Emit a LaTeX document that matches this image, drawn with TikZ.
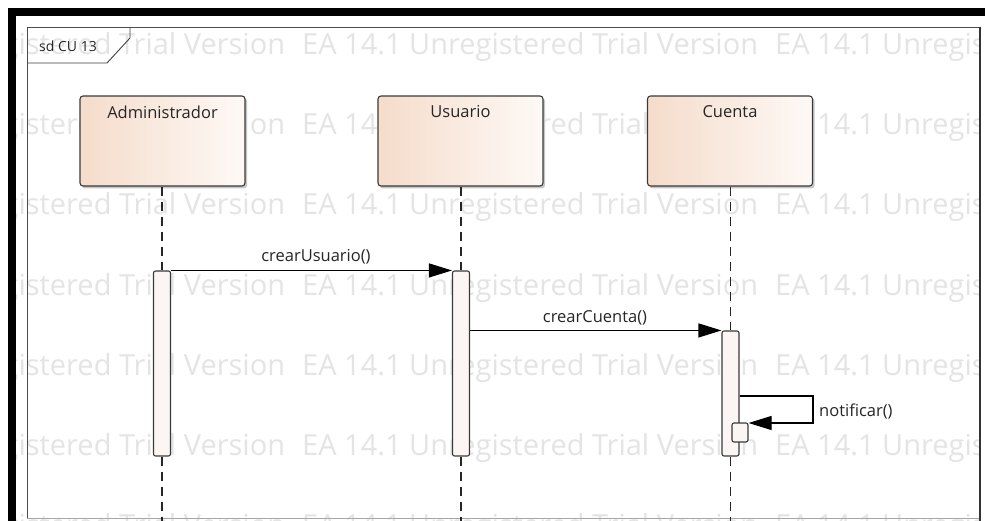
\documentclass[tikz,border=0pt]{standalone}
\usepackage{fontspec}
\setmainfont{Open Sans}
\usetikzlibrary{arrows.meta}

\definecolor{ink}{HTML}{262626}
\definecolor{edge}{HTML}{3A3A3A}
\definecolor{peach}{HTML}{F5DCCB}
\definecolor{peachlight}{HTML}{FEF9F6}
\definecolor{barfill}{HTML}{FBF6F3}
\definecolor{wmgray}{HTML}{E4E4E4}

\tikzset{
  head/.style={draw=edge, line width=1.1pt, rounded corners=3pt,
    left color=peach, right color=peachlight,
    minimum width=165pt, minimum height=90pt, inner sep=0pt},
  headshadow/.style={fill=black!22, rounded corners=3pt},
  headname/.style={font=\fontsize{16.5}{19}\selectfont, text=ink, anchor=north, inner sep=0pt},
  actbar/.style={draw=edge, line width=1.1pt, fill=barfill, rounded corners=2pt,
    minimum width=17pt, inner sep=0pt},
  lifeline/.style={draw=ink, line width=1.1pt, dash pattern=on 9pt off 6pt},
  msg/.style={draw=black, line width=1.1pt, -{Triangle[length=23pt,width=14pt]}},
  msglabel/.style={font=\fontsize{16.5}{19}\selectfont, text=ink, inner sep=0pt},
  wm/.style={font=\fontsize{29}{32}\selectfont, text=wmgray, inner sep=0pt, anchor=base west},
}

\begin{document}
\begin{tikzpicture}[x=1pt,y=-1pt]
  % canvas
  \fill[white] (0,0) rectangle (985,521);
  \useasboundingbox (0,0) rectangle (985,521);

  % trial watermark rows
  \begin{scope}
    \clip (16,16) rectangle (980,521);
    \foreach \yy in {55,135,215,295,375,455,535} {
      \foreach \xx in {-171,302,775} {
        \node[wm] at (\xx,\yy) {EA 14.1 Unregistered Trial Version};
      }
    }
  \end{scope}

  % outer black border
  \fill[black] (8,8) rectangle (985,16);
  \fill[black] (8,8) rectangle (16,521);

  % diagram frame
  \draw[black!70, line width=0.9pt] (27,518) -- (27,27) -- (980,27);
  \draw[black!35, line width=0.9pt] (27,518) -- (980,518);
  \draw[black!80, line width=2pt] (980,27) -- (980,521);

  % frame tag
  \draw[black!75, line width=0.9pt] (130,27) -- (130,38) -- (107,63) -- (27,63);
  \node[font=\fontsize{14}{16}\selectfont, text=ink, inner sep=0pt] (tag) at (68,46) {sd CU 13};

  % lifeline heads with shadows
  \foreach \cx in {162.5,460.5,730} {
    \fill[headshadow] (\cx-80.5,98) rectangle (\cx+84.5,188.5);
  }
  \node[head] (adm) at (162.5,141) {};
  \node[head] (usu) at (460.5,141) {};
  \node[head] (cue) at (730,141) {};
  \node[headname] (admname) at ([yshift=-10pt]adm.north) {Administrador};
  \node[headname] (usuname) at ([yshift=-10pt]usu.north) {Usuario};
  \node[headname] (cuename) at ([yshift=-10pt]cue.north) {Cuenta};

  % lower ends of the lifelines
  \coordinate (admend) at (162,521);
  \coordinate (usuend) at (461,521);
  \coordinate (cueend) at (730.5,521);

  % activation bar placeholders (drawn later, on top of the lifelines)
  \path (162,363.5) node[actbar, minimum height=185pt, draw=none, fill=none] (barA) {};
  \path (461,363.5) node[actbar, minimum height=185pt, draw=none, fill=none] (barU) {};
  \path (730.5,393.5) node[actbar, minimum height=125pt, draw=none, fill=none] (barC) {};
  \path (740,432.5) node[actbar, minimum width=16pt, minimum height=19pt, draw=none, fill=none] (selfbar) {};

  % lifelines
  \draw[lifeline] (adm.south -| barA.center) -- (barA.north);
  \draw[lifeline] (barA.south) -- (admend);
  \draw[lifeline] (usu.south -| barU.center) -- (barU.north);
  \draw[lifeline] (barU.south) -- (usuend);
  \draw[lifeline] (cue.south -| barC.center) -- (barC.north);
  \draw[lifeline] (barC.south) -- (cueend);

  % bars
  \node[actbar, minimum height=185pt] at (barA) {};
  \node[actbar, minimum height=185pt] at (barU) {};
  \node[actbar, minimum height=125pt] at (barC) {};
  \node[actbar, minimum width=16pt, minimum height=19pt] at (selfbar) {};

  % messages
  \draw[msg] (barA.north east) -- (barA.north east -| barU.west);
  \node[msglabel] (m1) at (316,257) {crearUsuario()};

  \draw[msg] (barU.east |- barC.north) -- (barC.north west);
  \node[msglabel] (m2) at (595,318) {crearCuenta()};

  \coordinate (turnA) at (813,396);
  \coordinate (turnB) at (813,423);
  \draw[msg, line join=miter] (barC.east |- turnA) -- (turnA) -- (turnB) -- (turnB -| selfbar.east);
  \node[msglabel, anchor=west] (m3) at (819,411) {notificar()};
\end{tikzpicture}
\end{document}
